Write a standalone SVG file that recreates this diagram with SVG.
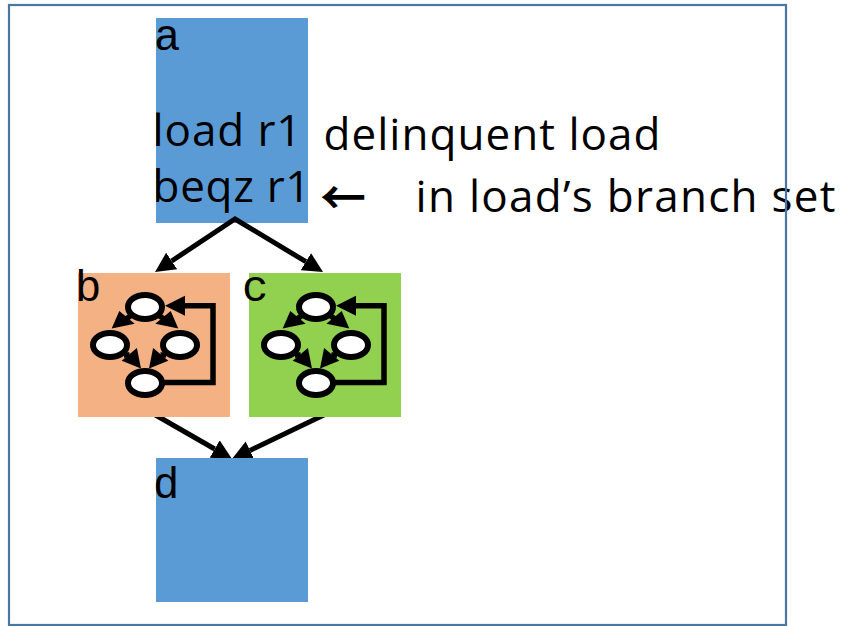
<svg xmlns="http://www.w3.org/2000/svg" xmlns:xlink="http://www.w3.org/1999/xlink" width="841" height="626" viewBox="0 0 841 626">
  <style>
    .blk { fill: #5B9BD5; }
    .tag { font-family: "Liberation Mono", "Courier New", monospace; font-size: 44px; fill: #000; }
    .code { font-family: "Open Sans", "DejaVu Sans", sans-serif; font-size: 44px; fill: #000; }
    .sym { font-family: "Noto Sans CJK JP", "DejaVu Sans", sans-serif; font-size: 46px; fill: #000; }
    .edge { fill: none; stroke: #000; stroke-width: 5; stroke-linejoin: miter; }
    .mini { fill: none; stroke: #000; stroke-width: 5.5; stroke-linejoin: miter; }
    .head { fill: #000; }
    .st { fill: #fff; stroke: #000; stroke-width: 6; }
  </style>
  <defs>
    <marker id="ah" markerUnits="userSpaceOnUse" markerWidth="20" markerHeight="20" viewBox="0 0 20 20" refX="0" refY="10" orient="auto-start-reverse">
      <path d="M0,0 L20,10 L0,20 z" fill="#000"/>
    </marker>
    <!-- small loop graph drawn inside blocks b and c -->
    <g id="loopgraph">
      <path class="mini" d="M131,315.5 L126,319 M159,315.5 L164,319 M124,355 L129.5,355 M166,355 L160.5,355"/>
      <path class="mini" d="M163,382.5 H213 V305.7 H183"/>
      <polygon class="head" points="111.7,328.5 119.3,311.1 134.7,323.8"/>
      <polygon class="head" points="178.3,328.5 170.7,311.1 155.3,323.8"/>
      <polygon class="head" points="141,368.5 136.9,348 121.7,360.7"/>
      <polygon class="head" points="149,368.5 153.1,348 168.3,360.7"/>
      <polygon class="head" points="165,305.7 185,295.7 185,315.7"/>
      <ellipse class="st" cx="145" cy="307" rx="17" ry="12"/>
      <ellipse class="st" cx="110" cy="345" rx="17" ry="12"/>
      <ellipse class="st" cx="180" cy="345" rx="17" ry="12"/>
      <ellipse class="st" cx="145" cy="383" rx="17" ry="12"/>
    </g>
  </defs>

  <rect width="841" height="626" fill="#fff"/>

  <g id="node-a">
    <rect class="blk" x="156" y="18" width="152" height="205"/>
    <text class="tag" x="154" y="50">a</text>
    <text class="code" x="152.5" y="146" textLength="149">load r1</text>
    <text class="code" x="152.5" y="202" textLength="158">beqz r1</text>
  </g>

  <g id="connectors">
    <path class="edge" d="M171.7,261 L235,219 L305.9,261.7" marker-start="url(#ah)" marker-end="url(#ah)"/>
    <path class="edge" d="M152,413 L214.7,449" marker-end="url(#ah)"/>
    <path class="edge" d="M328,413 L250,450.4" marker-end="url(#ah)"/>
  </g>

  <g id="node-b">
    <rect x="78" y="273" width="152" height="144" fill="#F4B183"/>
    <text class="tag" x="75" y="301">b</text>
    <use href="#loopgraph" xlink:href="#loopgraph"/>
  </g>

  <g id="node-c">
    <rect x="249" y="273" width="152" height="144" fill="#92D050"/>
    <text class="tag" x="242" y="301">c</text>
    <use href="#loopgraph" xlink:href="#loopgraph" x="171"/>
  </g>

  <g id="node-d">
    <rect class="blk" x="156" y="458" width="152" height="144"/>
    <text class="tag" x="153" y="498">d</text>
  </g>

  <g id="annotation">
    <text class="code" x="323.5" y="150" textLength="337">delinquent load</text>
    <text class="sym" x="320" y="214" font-weight="bold">←</text>
    <text class="code" x="415.5" y="212" textLength="420">in load’s branch set</text>
  </g>

  <rect x="9" y="5" width="777" height="620" fill="none" stroke="#4A76A6" stroke-width="2.2"/>
</svg>
